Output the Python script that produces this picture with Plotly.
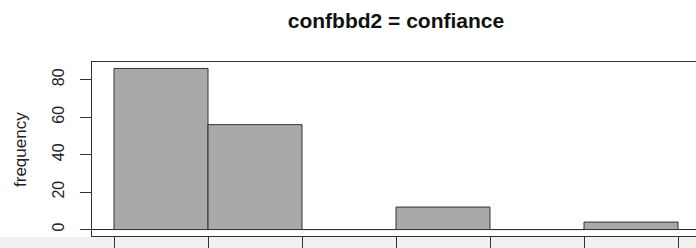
import plotly.graph_objects as go

# Data
bin_edges = [0, 1, 2, 3, 4, 5, 6]
counts = [86, 56, 0, 12, 0, 4]
y_ticks = [0, 20, 40, 60, 80]
title_text = "confbbd2 = confiance"
y_label = "frequency"

centers = [(bin_edges[i] + bin_edges[i + 1]) / 2 for i in range(len(counts))]
widths = [bin_edges[i + 1] - bin_edges[i] for i in range(len(counts))]

W, H = 696, 248
L, R, T, B = 92, 0, 62, 12
PH = H - T - B
PW = W - L - R
px_per_unit = 94.0
x0 = bin_edges[0] - 22 / px_per_unit
x1 = x0 + PW / px_per_unit
ymax = max(counts)
pad = 0.04 * ymax

fig = go.Figure()
fig.add_trace(go.Bar(
    x=centers, y=counts, width=widths,
    marker=dict(color="#a9a9a9", line=dict(color="#333333", width=1)),
    hoverinfo="skip", showlegend=False,
))

fig.update_layout(
    width=W, height=H,
    margin=dict(l=L, r=R, t=T, b=B, pad=0, autoexpand=False),
    paper_bgcolor="white", plot_bgcolor="white",
    font=dict(family="Liberation Sans, Arial, sans-serif", color="#222222"),
    title=dict(text="<b>" + title_text + "</b>", x=(396 - L) / PW, xref="paper",
               xanchor="center", y=1 - 21 / H, yref="container", yanchor="middle",
               font=dict(size=21, color="#111111")),
    bargap=0,
    shapes=[
        dict(type="rect", xref="paper", yref="paper", x0=-L / PW, x1=1,
             y0=-B / PH, y1=-1 / PH,
             fillcolor="#f1f1f1", line=dict(width=0), layer="below"),
    ],
    annotations=[
        dict(text=y_label, textangle=-90, x=(20 - L) / PW, xref="paper",
             y=(T + PH - 150) / PH, yref="paper",
             xanchor="center", yanchor="middle", showarrow=False,
             font=dict(size=17, color="#222222")),
    ],
)

fig.update_xaxes(
    range=[x0, x1], showgrid=False, zeroline=False,
    showline=True, linecolor="#333333", linewidth=1, mirror=True,
    ticks="outside", ticklen=12, tickcolor="#333333", tickwidth=1,
    tickvals=bin_edges, showticklabels=False,
)
fig.update_yaxes(
    range=[-pad, ymax + pad], showgrid=False,
    zeroline=True, zerolinecolor="#222222", zerolinewidth=1,
    showline=True, linecolor="#333333", linewidth=1, mirror=False,
    ticks="outside", ticklen=11, tickcolor="#333333", tickwidth=1,
    tickvals=y_ticks, ticktext=[str(v) for v in y_ticks],
    tickangle=-90, tickfont=dict(size=16, color="#222222"),
    ticklabelstandoff=10,
)

fig.write_html(
    "out.html",
    config={"displayModeBar": False, "staticPlot": True},
    post_script="document.body.style.margin='0';document.body.style.overflow='hidden';",
)
